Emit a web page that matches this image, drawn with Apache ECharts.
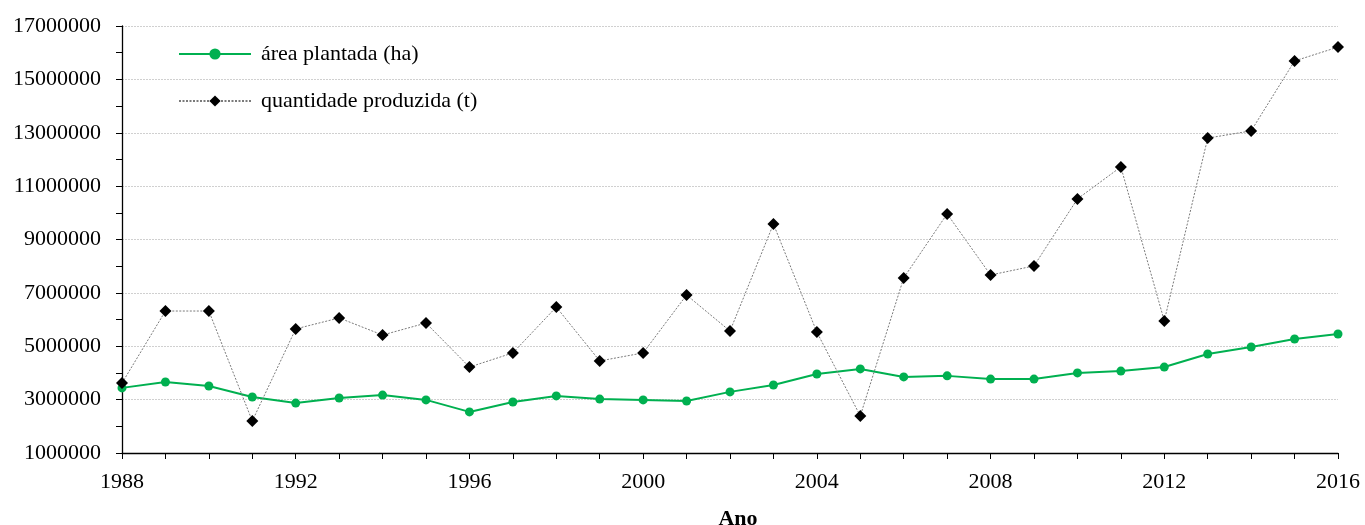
<!DOCTYPE html>
<html>
<head>
<meta charset="utf-8">
<script src="https://cdn.jsdelivr.net/npm/echarts@6/dist/echarts.min.js"></script>
<style>html,body{margin:0;padding:0;background:#fff;overflow:hidden;}#c{width:1365px;height:525px;}</style>
</head>
<body>
<div id="c"></div>
<script>
const years = [1988,1989,1990,1991,1992,1993,1994,1995,1996,1997,1998,1999,2000,2001,2002,2003,2004,2005,2006,2007,2008,2009,2010,2011,2012,2013,2014,2015,2016];
const areaPlantada = [3440000,3660000,3510000,3100000,2870000,3060000,3170000,2990000,2540000,2910000,3140000,3020000,2990000,2950000,3290000,3550000,3960000,4150000,3850000,3890000,3770000,3770000,4000000,4070000,4220000,4710000,4970000,5270000,5460000];
const quantidadeProduzida = [3620000,6320000,6320000,2200000,5650000,6060000,5420000,5870000,4220000,4750000,6470000,4450000,4750000,6920000,5570000,9580000,5530000,2390000,7560000,9960000,7670000,8010000,10520000,11720000,5950000,12800000,13070000,15690000,16210000];
const seriesNames = ['área plantada (ha)', 'quantidade produzida (t)'];
const xAxisTitle = 'Ano';

const font = '"Liberation Serif", "Times New Roman", serif';
const el = document.getElementById('c');
const chart = echarts.init(el);
chart.setOption({
  animation: false,
  grid: {left: 122, right: 27, top: 26, bottom: 72, containLabel: false, outerBoundsMode: 'none'},
  legend: {
    orient: 'vertical', left: 173, top: 38, itemGap: 25,
    itemWidth: 72, itemHeight: 14,
    textStyle: {fontFamily: font, fontSize: 22, color: '#000', padding: [0,0,0,5]},
    data: seriesNames
  },
  xAxis: {
    type: 'value', min: 1988, max: 2016, interval: 1,
    name: xAxisTitle, nameLocation: 'middle', nameGap: 55,
    nameTextStyle: {fontFamily: font, fontSize: 22, fontWeight: 'bold', color: '#000', padding: [0,0,0,16]},
    axisLine: {show: true, lineStyle: {color: '#000', width: 1.3}},
    axisTick: {show: true, length: 6, lineStyle: {color: '#000'}},
    axisLabel: {fontFamily: font, fontSize: 22, color: '#000', margin: 18,
      formatter: v => (v % 4 === 0 ? String(v) : '')},
    splitLine: {show: false}
  },
  yAxis: {
    type: 'value', min: 1000000, max: 17000000, interval: 1000000,
    axisLine: {show: true, lineStyle: {color: '#000', width: 1.3}},
    axisTick: {show: true, length: 6, lineStyle: {color: '#000'}},
    axisLabel: {fontFamily: font, fontSize: 22, color: '#000', margin: 21,
      formatter: v => ((v / 1000000) % 2 === 1 ? String(v) : '')},
    splitLine: {show: true, lineStyle: {color: ['#d0d0d0', 'rgba(0,0,0,0)'], type: [2, 1], width: 1}}
  },
  series: [
    {
      name: seriesNames[0], type: 'line',
      data: years.map((y, i) => [y, areaPlantada[i]]),
      symbol: 'circle', symbolSize: 9,
      itemStyle: {color: '#00B050'},
      lineStyle: {color: '#00B050', width: 2},
      z: 3
    },
    {
      name: seriesNames[1], type: 'line',
      data: years.map((y, i) => [y, quantidadeProduzida[i]]),
      symbol: 'diamond', symbolSize: 12,
      itemStyle: {color: '#000'},
      lineStyle: {color: '#7a7a7a', width: 1, type: [2, 1.5]},
      z: 4
    }
  ]
});
</script>
</body>
</html>
